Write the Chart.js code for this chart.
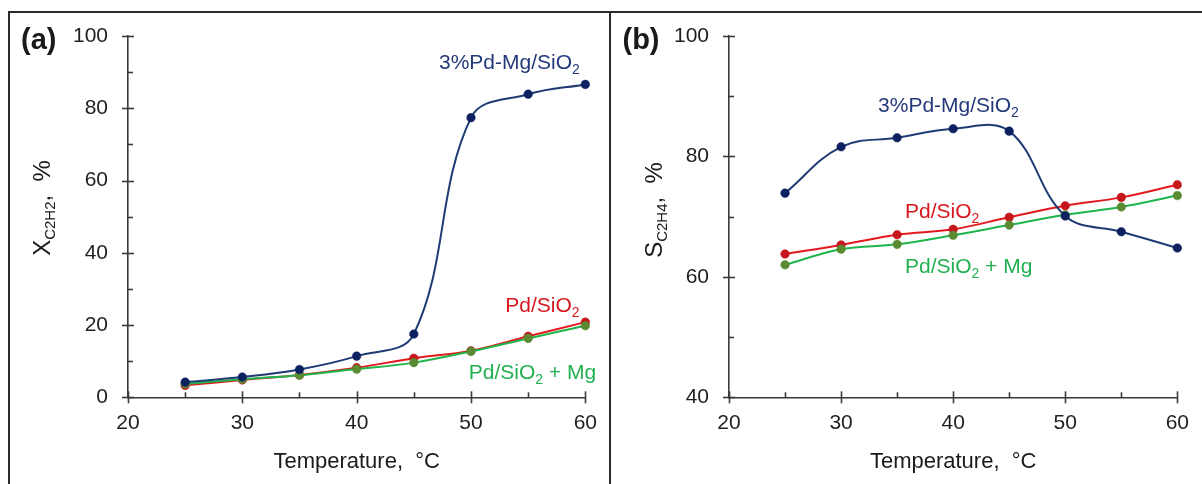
<!DOCTYPE html>
<html><head><meta charset="utf-8">
<script src="https://cdn.jsdelivr.net/npm/chart.js@4/dist/chart.umd.min.js"></script>
<style>
html,body{margin:0;padding:0;background:#fff;}
#wrap{position:relative;width:1202px;height:484px;overflow:hidden;background:#fff;}
#ca{position:absolute;left:0;top:0;width:610px;height:484px;}
#cb{position:absolute;left:610px;top:0;width:592px;height:484px;}
.fr{position:absolute;background:#2b2b2b;}
</style></head>
<body><div id="wrap">
<canvas id="ca" width="610" height="484"></canvas>
<canvas id="cb" width="592" height="484"></canvas>
<div class="fr" style="left:8px;top:11px;width:1194px;height:2px;"></div>
<div class="fr" style="left:8px;top:11px;width:2px;height:473px;"></div>
<div class="fr" style="left:609px;top:11px;width:2px;height:473px;"></div>
</div>
<script>
// ---------- data ----------
const temperatures = [25, 30, 35, 40, 45, 50, 55, 60];
const convPdMg     = [4.2, 5.6, 7.7, 11.4, 17.5, 77.4, 83.9, 86.6];   // 3%Pd-Mg/SiO2
const convPd       = [3.3, 4.8, 6.2, 8.2, 10.8, 12.9, 16.9, 20.8];    // Pd/SiO2
const convPdPlusMg = [3.7, 5.0, 6.1, 7.8, 9.6, 12.7, 16.3, 19.8];     // Pd/SiO2 + Mg
const selPdMg      = [73.9, 81.6, 83.1, 84.6, 84.2, 70.1, 67.5, 64.8];
const selPd        = [63.8, 65.3, 67.0, 67.9, 69.9, 71.8, 73.2, 75.3];
const selPdPlusMg  = [62.0, 64.6, 65.4, 66.9, 68.6, 70.3, 71.6, 73.5];
const xTickValues  = [20, 30, 40, 50, 60];
const yTicksA      = [0, 20, 40, 60, 80, 100];
const yTicksB      = [40, 60, 80, 100];
const seriesNames  = ['3%Pd-Mg/SiO2', 'Pd/SiO2', 'Pd/SiO2 + Mg'];

const FONT = '"Liberation Sans", Arial, Helvetica, sans-serif';
const AXIS = '#3a3a3a';
const C = {
  blueLine:'#1F3B74', bluePt:'#0D2160', blueTxt:'#23397A',
  redLine:'#E3191F',  redPt:'#C5161B',  redTxt:'#D8181E',
  greenLine:'#1EB54B',greenPt:'#5A8B33',greenTxt:'#22B150'
};

function pts(xs, ys){ return xs.map((x,i)=>({x:x, y:ys[i]})); }

function ds(label, data, line, pt, order){
  return {label, data, borderColor:line, backgroundColor:pt, pointBackgroundColor:pt,
    pointBorderColor:pt, pointRadius:4.3, pointBorderWidth:0.5, borderWidth:2,
    tension:0.38, order, clip:false};
}

function drawRich(ctx, parts, x, y, size, subSize, subShift, color, align){
  ctx.fillStyle = color;
  ctx.textBaseline = 'alphabetic';
  ctx.textAlign = 'left';
  let w = 0;
  parts.forEach(p=>{ ctx.font = (p.bold?'bold ':'') + (p.sub?subSize:size) + 'px ' + FONT; w += ctx.measureText(p.t).width; });
  let cx = align==='center' ? x - w/2 : (align==='right' ? x - w : x);
  parts.forEach(p=>{
    ctx.font = (p.bold?'bold ':'') + (p.sub?subSize:size) + 'px ' + FONT;
    ctx.fillText(p.t, cx, y + (p.sub?subShift:0));
    cx += ctx.measureText(p.t).width;
  });
}

function subParts(name){
  // turns "SiO2" into subscript 2
  const m = name.split('SiO2');
  const out = [];
  m.forEach((s,i)=>{ if(i>0){ out.push({t:'SiO'}); out.push({t:'2', sub:true}); } if(s) out.push({t:s}); });
  return out;
}

const decor = {
  id:'decor',
  afterDraw(chart, args, o){
    const ctx = chart.ctx, xs = chart.scales.x, ys = chart.scales.y, ca = chart.chartArea;
    ctx.save();
    ctx.strokeStyle = AXIS; ctx.lineWidth = 1.6;
    // y ticks
    for(let v = ys.min; v <= ys.max + 1e-9; v += o.yMinor){
      const p = Math.round(ys.getPixelForValue(v)) + 0.5;
      const major = Math.abs(((v - ys.min) / o.yMajor) - Math.round((v - ys.min)/o.yMajor)) < 1e-6;
      ctx.beginPath();
      if(major){ ctx.moveTo(ca.left-6, p); ctx.lineTo(ca.left+6, p); }
      else { ctx.moveTo(ca.left, p); ctx.lineTo(ca.left+5, p); }
      ctx.stroke();
    }
    // x ticks
    for(let v = xs.min; v <= xs.max + 1e-9; v += 5){
      const p = Math.round(xs.getPixelForValue(v)) + 0.5;
      const major = (v % 10) === 0;
      ctx.beginPath();
      if(major){ ctx.moveTo(p, ca.bottom-6); ctx.lineTo(p, ca.bottom+6); }
      else { ctx.moveTo(p, ca.bottom-5); ctx.lineTo(p, ca.bottom); }
      ctx.stroke();
    }
    // panel letter
    drawRich(ctx, [{t:o.letter, bold:true}], o.letterX, 49, 29, 29, 0, '#1a1a1a', 'left');
    // x title
    drawRich(ctx, [{t:'Temperature,\u00A0\u00A0\u00B0C'}], (ca.left+ca.right)/2, 468, 22, 22, 0, '#1a1a1a', 'center');
    // y title rotated
    ctx.save();
    ctx.translate(o.yTitleX, o.yTitleY);
    ctx.rotate(-Math.PI/2);
    drawRich(ctx, [{t:o.yMain},{t:o.ySub, sub:true},{t:',\u00A0\u00A0%'}], 0, 0, 24, 15, 5, '#1a1a1a', 'center');
    ctx.restore();
    // series labels (anchored in data coordinates)
    o.labels.forEach(L=>{
      drawRich(ctx, subParts(L.text), xs.getPixelForValue(L.x), ys.getPixelForValue(L.y), 21, 14, 5, L.color, 'left');
    });
    ctx.restore();
  }
};

function makeChart(id, opts){
  return new Chart(document.getElementById(id), {
    type:'line',
    data:{ datasets: opts.datasets },
    options:{
      responsive:false, animation:false, maintainAspectRatio:false,
      layout:{ padding:{ left:opts.padLeft, right:opts.padRight, top:36, bottom:36.7 } },
      plugins:{ legend:{display:false}, tooltip:{enabled:false}, decor:opts.decor },
      scales:{
        x:{ type:'linear', min:20, max:60,
            afterFit(s){ s.height = 50; },
            afterBuildTicks(s){ s.ticks = xTickValues.map(v=>({value:v})); },
            grid:{display:false, drawTicks:false},
            border:{display:true, color:AXIS, width:1.6},
            ticks:{ padding:13, color:'#1f1f1f', font:{family:FONT, size:21}, maxRotation:0 } },
        y:{ type:'linear', min:opts.yMin, max:opts.yMax,
            afterFit(s){ s.width = 60; },
            afterBuildTicks(s){ s.ticks = opts.yTicks.map(v=>({value:v})); },
            grid:{display:false, drawTicks:false},
            border:{display:true, color:AXIS, width:1.6},
            ticks:{ padding:20, color:'#1f1f1f', font:{family:FONT, size:21} } }
      }
    },
    plugins:[decor]
  });
}

makeChart('ca', {
  padLeft:68, padRight:23, yMin:0, yMax:100, yTicks:yTicksA,
  datasets:[
    ds(seriesNames[0], pts(temperatures, convPdMg), C.blueLine, C.bluePt, 0),
    ds(seriesNames[2], pts(temperatures, convPdPlusMg), C.greenLine, C.greenPt, 1),
    ds(seriesNames[1], pts(temperatures, convPd), C.redLine, C.redPt, 2)
  ],
  decor:{ yMinor:10, yMajor:20, letter:'(a)', letterX:21, yTitleX:50, yTitleY:208, yMain:'X', ySub:'C2H2',
    labels:[
      {text:seriesNames[0], x:47.2, y:91.0, color:C.blueTxt},
      {text:seriesNames[1], x:53.0, y:23.7, color:C.redTxt},
      {text:seriesNames[2], x:49.8, y:5.1, color:C.greenTxt}
    ] }
});

makeChart('cb', {
  padLeft:59, padRight:13, yMin:40, yMax:100, yTicks:yTicksB,
  datasets:[
    ds(seriesNames[0], pts(temperatures, selPdMg), C.blueLine, C.bluePt, 0),
    ds(seriesNames[2], pts(temperatures, selPdPlusMg), C.greenLine, C.greenPt, 1),
    ds(seriesNames[1], pts(temperatures, selPd), C.redLine, C.redPt, 2)
  ],
  decor:{ yMinor:10, yMajor:20, letter:'(b)', letterX:12.5, yTitleX:52, yTitleY:210, yMain:'S', ySub:'C2H4',
    labels:[
      {text:seriesNames[0], x:33.3, y:87.4, color:C.blueTxt},
      {text:seriesNames[1], x:35.7, y:69.7, color:C.redTxt},
      {text:seriesNames[2], x:35.7, y:60.6, color:C.greenTxt}
    ] }
});
</script>
</body></html>
